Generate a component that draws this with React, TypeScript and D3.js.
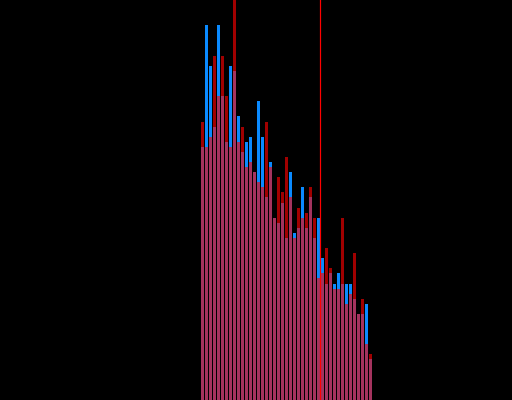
import React, { useEffect, useRef } from "react";
import * as d3 from "d3";

// histogram counts per bin (bin i spans [i, i+1])
const blueCounts = [
  50, 74, 66, 54, 74, 60, 51, 66, 65, 56, 49, 51, 52, 45, 59, 52, 40, 47, 36, 35, 39, 32,
  45, 33, 34, 42, 34, 40, 32, 36, 28, 23, 25, 23, 25, 23, 23, 23, 20, 17, 17, 19, 8,
];
const redCounts = [
  55, 50, 52, 68, 60, 68, 60, 50, 85, 51, 54, 46, 47, 45, 43, 42, 55, 46, 36, 44, 41, 48,
  40, 32, 38, 36, 37, 42, 36, 24, 25, 30, 26, 22, 22, 36, 19, 21, 29, 17, 20, 11, 9,
];
const markerValue = 29.875;

const width = 512;
const height = 400;

const App: React.FC = () => {
  const ref = useRef<SVGSVGElement | null>(null);

  useEffect(() => {
    if (!ref.current) return;
    const svg = d3.select(ref.current);
    svg.selectAll("*").remove();

    const x = d3.scaleLinear().domain([-50.25, 77.75]).range([0, width]);
    const y = d3.scaleLinear().domain([0, 79]).range([height, 0]);

    svg
      .append("rect")
      .attr("width", width)
      .attr("height", height)
      .attr("fill", "#000");

    const drawBars = (counts: number[], color: string, opacity: number) => {
      svg
        .append("g")
        .selectAll("rect")
        .data(counts)
        .enter()
        .append("rect")
        .attr("x", (_, i) => x(i))
        .attr("width", (_, i) => x(i + 1) - x(i) - 1)
        .attr("y", (d) => Math.max(0, y(d)))
        .attr("height", (d) => y(0) - Math.max(0, y(d)))
        .attr("fill", color)
        .attr("fill-opacity", opacity)
        .attr("shape-rendering", "crispEdges");
    };

    drawBars(blueCounts, "#0a8aff", 1);
    drawBars(redCounts, "#ff0000", 0.63);

    svg
      .append("line")
      .attr("x1", x(markerValue))
      .attr("x2", x(markerValue))
      .attr("y1", 0)
      .attr("y2", height)
      .attr("stroke", "#ff0000")
      .attr("stroke-width", 1.2);
  }, []);

  return (
    <svg
      ref={ref}
      width={width}
      height={height}
      style={{ position: "fixed", left: 0, top: 0, display: "block", background: "#000" }}
    />
  );
};

export default App;
